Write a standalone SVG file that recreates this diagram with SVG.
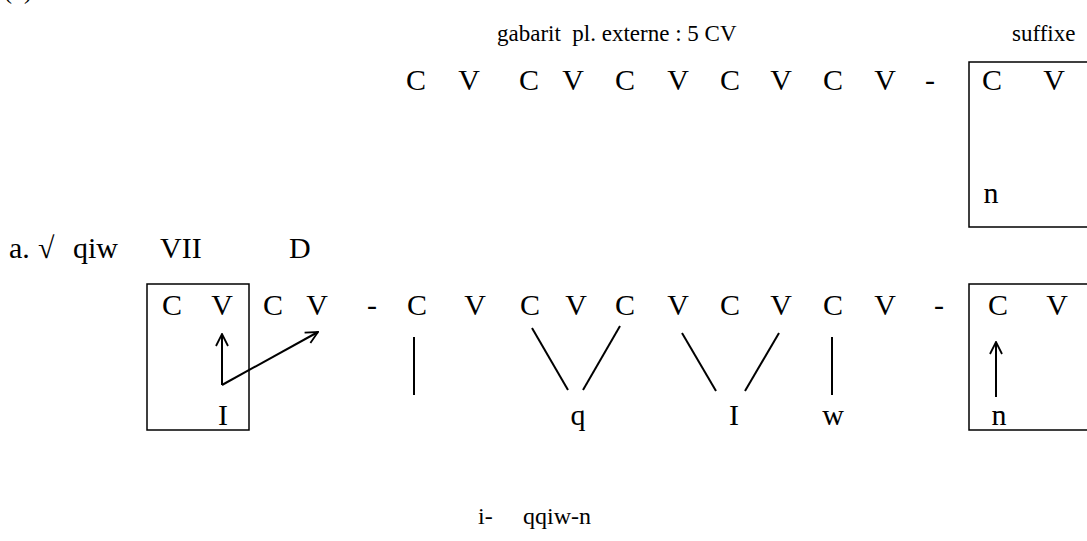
<svg xmlns="http://www.w3.org/2000/svg" width="1087" height="541" viewBox="0 0 1087 541">
<style>
text{font-family:"Liberation Serif","Times New Roman",serif;fill:#000}
.t{font-size:24px}
.h{font-size:23px}
.s{font-size:30px;text-anchor:middle}
.l{font-size:30px}
.box{fill:none;stroke:#000;stroke-width:1.5}
.ln{stroke:#000;stroke-width:2;fill:none}
</style>
<defs>
<marker id="ah" viewBox="0 0 14 14" refX="13" refY="7" markerWidth="14" markerHeight="14" markerUnits="userSpaceOnUse" orient="auto">
<path d="M1,1 L13,7 L1,13" fill="none" stroke="#000" stroke-width="1.8"/>
</marker>
</defs>
<g id="number">
<text class="t" x="4" y="-1">(</text>
<text class="t" x="24" y="-1">)</text>
</g>
<g id="header">
<text class="h" x="497" y="41" xml:space="preserve">gabarit  pl. externe : 5 CV</text>
<text class="h" x="1012" y="41">suffixe</text>
</g>
<g id="row1">
<text class="s" x="416" y="90">C</text>
<text class="s" x="469" y="90">V</text>
<text class="s" x="529" y="90">C</text>
<text class="s" x="573" y="90">V</text>
<text class="s" x="625" y="90">C</text>
<text class="s" x="678" y="90">V</text>
<text class="s" x="730" y="90">C</text>
<text class="s" x="781" y="90">V</text>
<text class="s" x="833" y="90">C</text>
<text class="s" x="885" y="90">V</text>
<text class="s" x="930" y="90">-</text>
</g>
<g id="suffix1">
<path class="box" d="M1087,62 H969 V227 H1087"/>
<text class="s" x="992" y="90">C</text>
<text class="s" x="1054" y="90">V</text>
<text class="s" x="991" y="203">n</text>
</g>
<g id="label">
<text class="l" x="9" y="258">a.</text>
<text class="l" x="38" y="258">√</text>
<text class="l" x="73" y="258">qiw</text>
<text class="l" x="160" y="258">VII</text>
<text class="l" x="289" y="258">D</text>
</g>
<g id="prefix">
<rect class="box" x="147" y="284" width="102" height="146"/>
<text class="s" x="172" y="315">C</text>
<text class="s" x="222" y="315">V</text>
<text class="s" x="223" y="425">I</text>
</g>
<g id="row2">
<text class="s" x="273" y="315">C</text>
<text class="s" x="317" y="315">V</text>
<text class="s" x="372" y="315">-</text>
<text class="s" x="417" y="315">C</text>
<text class="s" x="475" y="315">V</text>
<text class="s" x="530" y="315">C</text>
<text class="s" x="576" y="315">V</text>
<text class="s" x="625" y="315">C</text>
<text class="s" x="678" y="315">V</text>
<text class="s" x="730" y="315">C</text>
<text class="s" x="781" y="315">V</text>
<text class="s" x="833" y="315">C</text>
<text class="s" x="885" y="315">V</text>
<text class="s" x="939" y="315">-</text>
<text class="s" x="578" y="425">q</text>
<text class="s" x="734" y="425">I</text>
<text class="s" x="833" y="425">w</text>
</g>
<g id="suffix2">
<path class="box" d="M1087,284 H969 V430 H1087"/>
<text class="s" x="998" y="315">C</text>
<text class="s" x="1057" y="315">V</text>
<text class="s" x="999" y="425">n</text>
</g>
<g id="connectors">
<path class="ln" d="M222,385 V334" marker-end="url(#ah)"/>
<path class="ln" d="M222,385 L318,332" marker-end="url(#ah)"/>
<path class="ln" d="M414,337 V395"/>
<path class="ln" d="M532,328 L568,390"/>
<path class="ln" d="M620,326 L583,390"/>
<path class="ln" d="M682,333 L716,391"/>
<path class="ln" d="M779,333 L745,391"/>
<path class="ln" d="M832,337 V395"/>
<path class="ln" d="M996,397 V342" marker-end="url(#ah)"/>
</g>
<g id="result">
<text class="t" x="478" y="524">i-</text>
<text class="t" x="523" y="524">qqiw-n</text>
</g>
</svg>
